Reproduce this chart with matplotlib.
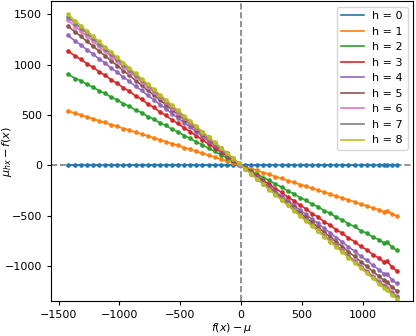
import matplotlib
matplotlib.use("Agg")
import matplotlib.pyplot as plt

# f(x) - mu
x = [-1426, -1362, -1318, -1268, -1218, -1168, -1118, -1068, -1018, -968,
     -918, -868, -818, -768, -718, -668, -618, -568, -518, -468,
     -418, -368, -318, -268, -218, -168, -118, -68, -18, 32,
     82, 132, 182, 232, 282, 332, 382, 432, 482, 532,
     582, 632, 682, 732, 782, 832, 882, 932, 982, 1032,
     1082, 1132, 1172, 1200, 1240, 1278]

h0 = [0] * len(x)
h1 = [542, 516, 502, 480, 464, 442, 426, 404, 388, 366,
      350, 328, 312, 290, 274, 252, 236, 214, 198, 176,
      160, 138, 122, 100, 84, 62, 46, 24, 7, -12,
      -33, -50, -72, -89, -112, -128, -151, -167, -190, -206,
      -229, -245, -268, -284, -307, -322, -346, -361, -386, -400,
      -425, -440, -458, -452, -482, -503]
h2 = [907, 862, 842, 804, 778, 740, 715, 676, 651, 612,
      587, 549, 524, 485, 460, 422, 396, 358, 333, 295,
      269, 231, 205, 168, 141, 104, 77, 41, 12, -20,
      -56, -84, -122, -149, -188, -214, -254, -280, -319, -345,
      -385, -410, -450, -476, -516, -541, -582, -606, -647, -672,
      -712, -737, -770, -762, -812, -841]
h3 = [1138, 1083, 1055, 1009, 975, 929, 895, 849, 815, 769,
      736, 690, 656, 610, 576, 530, 496, 450, 416, 371,
      336, 291, 256, 211, 176, 132, 96, 52, 15, -25,
      -69, -105, -151, -186, -233, -267, -315, -349, -396, -430,
      -478, -512, -559, -593, -640, -674, -722, -756, -804, -838,
      -885, -919, -958, -952, -1010, -1047]
h4 = [1294, 1232, 1198, 1148, 1107, 1057, 1016, 966, 926, 875,
      835, 785, 744, 694, 653, 603, 563, 513, 472, 422,
      381, 332, 290, 241, 199, 151, 108, 60, 17, -28,
      -77, -119, -168, -210, -260, -302, -352, -393, -443, -485,
      -535, -576, -626, -668, -718, -759, -809, -851, -901, -942,
      -992, -1034, -1075, -1080, -1135, -1172]
h5 = [1386, 1321, 1284, 1231, 1186, 1134, 1088, 1037, 991, 940,
      894, 842, 797, 745, 699, 648, 602, 551, 505, 453,
      408, 356, 310, 259, 213, 162, 115, 65, 18, -30,
      -81, -127, -178, -224, -276, -321, -373, -418, -470, -516,
      -567, -613, -665, -710, -762, -807, -859, -904, -956, -1001,
      -1053, -1099, -1141, -1158, -1207, -1245]
h6 = [1443, 1376, 1336, 1282, 1234, 1181, 1133, 1080, 1032, 979,
      930, 878, 829, 776, 728, 675, 627, 574, 525, 473,
      424, 372, 323, 271, 221, 170, 120, 68, 18, -32,
      -84, -133, -185, -234, -287, -336, -388, -437, -489, -538,
      -591, -639, -692, -741, -793, -842, -895, -943, -996, -1045,
      -1097, -1146, -1189, -1210, -1257, -1295]
h7 = [1476, 1408, 1365, 1312, 1261, 1208, 1158, 1105, 1054, 1001,
      951, 898, 847, 794, 744, 691, 640, 587, 537, 484,
      433, 380, 330, 277, 226, 173, 122, 70, 19, -33,
      -84, -136, -186, -238, -289, -341, -391, -443, -494, -546,
      -596, -648, -699, -751, -801, -853, -904, -956, -1006, -1058,
      -1109, -1161, -1202, -1226, -1271, -1310]
h8 = [1502, 1433, 1388, 1335, 1283, 1230, 1177, 1125, 1072, 1019,
      967, 914, 861, 809, 756, 703, 651, 598, 545, 493,
      440, 387, 335, 282, 230, 177, 124, 72, 19, -33,
      -85, -137, -189, -241, -292, -344, -396, -448, -500, -552,
      -604, -655, -707, -759, -811, -863, -915, -966, -1018, -1070,
      -1122, -1174, -1215, -1240, -1286, -1325]

series = [h0, h1, h2, h3, h4, h5, h6, h7, h8]


def plot_diffs():
    plt.rcParams["font.size"] = 8
    plt.rcParams["lines.linewidth"] = 1.2
    plt.rcParams["xtick.major.size"] = 3
    plt.rcParams["ytick.major.size"] = 3

    fig, ax = plt.subplots(figsize=(4.16, 3.36), dpi=100)
    fig.subplots_adjust(left=0.123, right=0.993, bottom=0.104, top=0.997)

    ax.axhline(0, color="gray", ls="--", zorder=0)
    ax.axvline(0, color="gray", ls="--", zorder=0)

    for h, ys in enumerate(series):
        c = "C%d" % h
        ax.plot(x, ys, color=c, label="h = %d" % h)
        ax.plot(x, ys, "o", color=c, ms=2.3)

    ax.set_ylim(-1347, 1632)
    ax.set_xlabel(r"$f(x) - \mu$", labelpad=1)
    ax.set_ylabel(r"$\mu_{hx} - f(x)$")
    # keep the label just inside the left edge, as in the original
    ax.yaxis.set_label_coords(-0.103, 0.5)
    ax.legend(loc="upper right")
    fig.savefig("out.png")


if __name__ == "__main__":
    plot_diffs()
